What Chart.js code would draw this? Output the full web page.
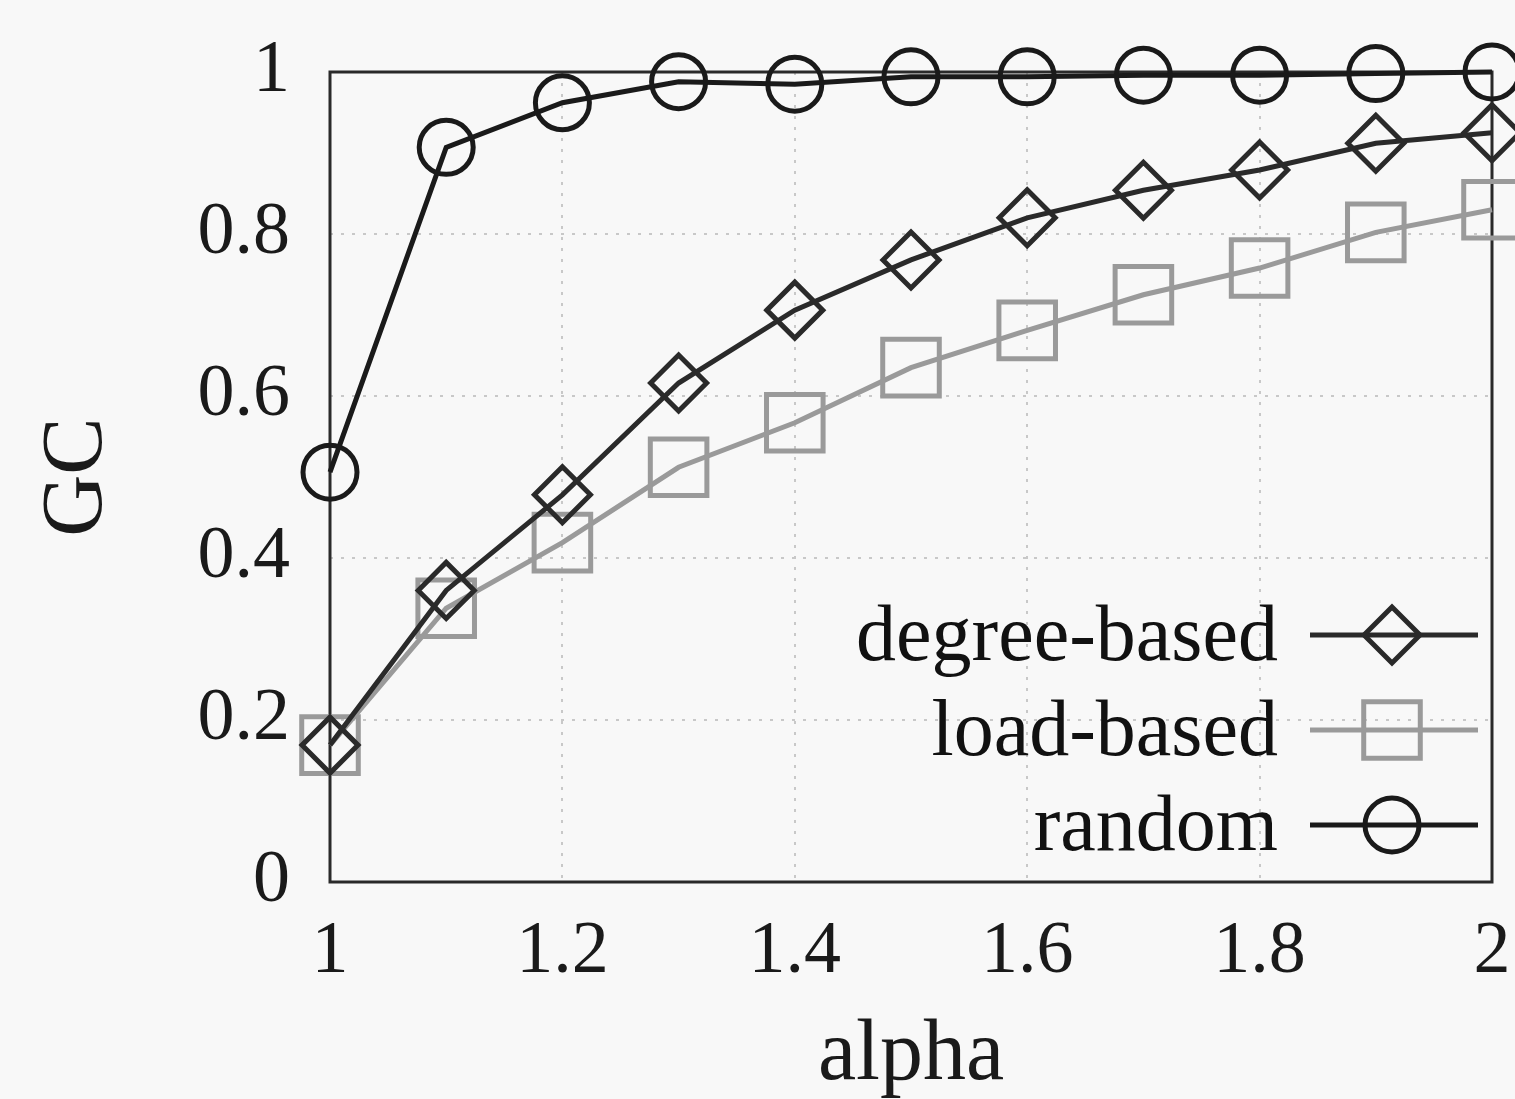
<!DOCTYPE html>
<html>
<head>
<meta charset="utf-8">
<script src="https://cdn.jsdelivr.net/npm/chart.js@4/dist/chart.umd.min.js"></script>
<style>
html,body{margin:0;padding:0;background:#f8f8f8;}
#wrap{width:1515px;height:1099px;position:relative;}
</style>
</head>
<body>
<div id="wrap"><canvas id="c"></canvas></div>
<script>
const alphaValues = [1.0, 1.1, 1.2, 1.3, 1.4, 1.5, 1.6, 1.7, 1.8, 1.9, 2.0];
const degreeBased = [0.169, 0.36, 0.478, 0.616, 0.706, 0.768, 0.82, 0.854, 0.879, 0.912, 0.925];
const loadBased   = [0.169, 0.338, 0.419, 0.512, 0.567, 0.635, 0.681, 0.725, 0.758, 0.802, 0.83];
const randomGC    = [0.506, 0.907, 0.962, 0.988, 0.985, 0.994, 0.994, 0.996, 0.996, 0.998, 1.0];
const xTicks = [1, 1.2, 1.4, 1.6, 1.8, 2];
const yTicks = [0, 0.2, 0.4, 0.6, 0.8, 1];
const seriesNames = ['degree-based', 'load-based', 'random'];

const FONT = '"Liberation Serif", "DejaVu Serif", serif';
const toPts = arr => arr.map((v, i) => ({x: alphaValues[i], y: v}));

const frame = {
  id: 'frame',
  beforeDatasetsDraw(chart) {
    const {ctx, chartArea: a} = chart;
    ctx.save();
    ctx.strokeStyle = '#2a2a2a';
    ctx.lineWidth = 3;
    ctx.strokeRect(a.left, a.top, a.right - a.left, a.bottom - a.top);
    ctx.restore();
  }
};

const innerLegend = {
  id: 'innerLegend',
  afterDraw(chart) {
    const {ctx} = chart;
    const ys = [635, 730, 825];
    ctx.save();
    ctx.font = '80px ' + FONT;
    ctx.textAlign = 'right';
    ctx.textBaseline = 'middle';
    chart.data.datasets.forEach((ds, i) => {
      const y = ys[i];
      ctx.fillStyle = '#111';
      ctx.fillText(ds.label, 1278, y + 4);
      ctx.strokeStyle = ds.borderColor;
      ctx.lineWidth = ds.borderWidth;
      ctx.beginPath();
      ctx.moveTo(1310, y);
      ctx.lineTo(1478, y);
      ctx.stroke();
      ctx.fillStyle = 'rgba(0,0,0,0)';
      ctx.strokeStyle = ds.pointBorderColor;
      ctx.lineWidth = ds.pointBorderWidth;
      Chart.helpers.drawPoint(ctx, {
        pointStyle: ds.pointStyle,
        radius: ds.pointRadius,
        borderWidth: ds.pointBorderWidth,
        rotation: 0
      }, 1392, y);
    });
    ctx.restore();
  }
};

new Chart(document.getElementById('c'), {
  type: 'line',
  data: {
    datasets: [
      {
        label: seriesNames[0],
        data: toPts(degreeBased),
        borderColor: '#2a2a2a',
        backgroundColor: 'rgba(0,0,0,0)',
        borderWidth: 5,
        pointStyle: 'rectRot',
        pointRadius: 28,
        pointBorderWidth: 5,
        pointBorderColor: '#2a2a2a',
        pointBackgroundColor: 'rgba(0,0,0,0)',
        clip: false
      },
      {
        label: seriesNames[1],
        data: toPts(loadBased),
        borderColor: '#9a9a9a',
        backgroundColor: 'rgba(0,0,0,0)',
        borderWidth: 5,
        pointStyle: 'rect',
        pointRadius: 40,
        pointBorderWidth: 5,
        pointBorderColor: '#9a9a9a',
        pointBackgroundColor: 'rgba(0,0,0,0)',
        clip: false
      },
      {
        label: seriesNames[2],
        data: toPts(randomGC),
        borderColor: '#1a1a1a',
        backgroundColor: 'rgba(0,0,0,0)',
        borderWidth: 5,
        pointStyle: 'circle',
        pointRadius: 27,
        pointBorderWidth: 5,
        pointBorderColor: '#1a1a1a',
        pointBackgroundColor: 'rgba(0,0,0,0)',
        clip: false
      }
    ]
  },
  options: {
    responsive: true,
    maintainAspectRatio: false,
    animation: false,
    devicePixelRatio: 1,
    layout: {autoPadding: false, padding: {top: 72, right: 23, left: 0, bottom: 0}},
    plugins: {
      legend: {display: false},
      tooltip: {enabled: false}
    },
    elements: {line: {tension: 0}},
    scales: {
      x: {
        type: 'linear',
        min: 1, max: 2,
        afterBuildTicks(scale) { scale.ticks = xTicks.map(v => ({value: v})); },
        afterFit(scale) { scale.height = 217; scale.paddingLeft = 0; scale.paddingRight = 0; },
        grid: {color: '#c8c8c8', lineWidth: 2, drawTicks: false},
        border: {display: false, dash: [3, 8]},
        ticks: {
          color: '#1a1a1a', padding: 26,
          font: {family: FONT, size: 74},
          callback: v => String(v)
        },
        title: {
          display: true, text: 'alpha', color: '#1a1a1a',
          font: {family: FONT, size: 86, lineHeight: 1}, padding: {top: 2, bottom: 0}
        }
      },
      y: {
        min: 0, max: 1,
        afterBuildTicks(scale) { scale.ticks = yTicks.map(v => ({value: v})); },
        afterFit(scale) { scale.width = 330; scale.paddingTop = 0; scale.paddingBottom = 0; },
        grid: {color: '#c8c8c8', lineWidth: 2, drawTicks: false},
        border: {display: false, dash: [3, 8]},
        ticks: {
          color: '#1a1a1a', padding: 40,
          font: {family: FONT, size: 74},
          callback: v => String(v)
        },
        title: {
          display: true, text: 'GC', color: '#1a1a1a',
          font: {family: FONT, size: 86, lineHeight: 1}, padding: {top: 35, bottom: 0}
        }
      }
    }
  },
  plugins: [frame, innerLegend]
});
</script>
</body>
</html>
